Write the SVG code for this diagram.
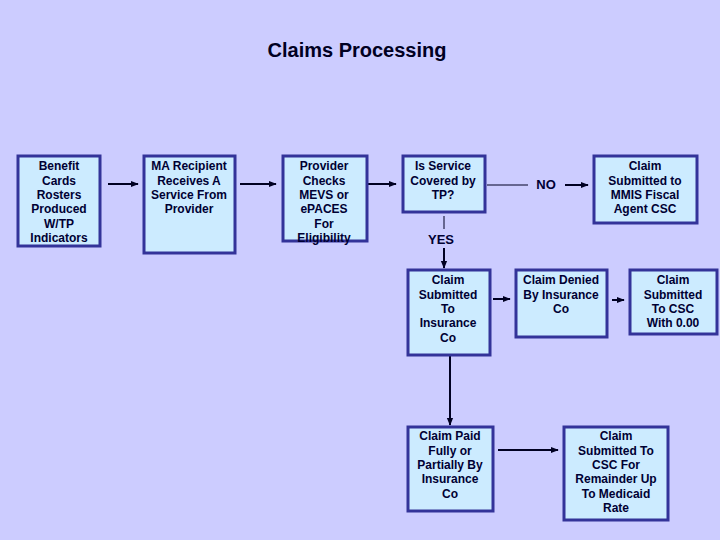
<svg xmlns="http://www.w3.org/2000/svg" width="720" height="540" viewBox="0 0 720 540">
<style>
.box{fill:#CCEBFF;stroke:#333399;stroke-width:3}
.t{font-family:"Liberation Sans",Arial,sans-serif;font-weight:bold;font-size:12px;fill:#000033;text-anchor:middle}
.c{stroke:#000022;stroke-width:2;fill:none}
.title{font-family:"Liberation Sans",Arial,sans-serif;font-weight:bold;font-size:20px;fill:#000022;text-anchor:middle}
</style>
<defs>
<marker id="ah" viewBox="0 0 10 10" refX="9" refY="5" markerWidth="4" markerHeight="4" orient="auto" markerUnits="strokeWidth">
<path d="M0,1 L10,5 L0,9 z" fill="#000022"/>
</marker>
</defs>
<rect width="720" height="540" fill="#CCCCFF"/>
<text class="title" x="357" y="57">Claims Processing</text>
<g id="connectors">
<line class="c" x1="108" y1="184" x2="138" y2="184" marker-end="url(#ah)"/>
<line class="c" x1="240" y1="184" x2="276" y2="184" marker-end="url(#ah)"/>
<line class="c" x1="368" y1="184" x2="396" y2="184" marker-end="url(#ah)"/>
<line x1="487" y1="185" x2="528" y2="185" stroke="#000022" stroke-width="1"/>
<text class="t" x="546" y="189" style="font-size:13px">NO</text>
<line class="c" x1="565" y1="185" x2="588" y2="185" marker-end="url(#ah)"/>
<line x1="444" y1="216" x2="444" y2="229" stroke="#000022" stroke-width="1"/>
<text class="t" x="441" y="244" style="font-size:13px">YES</text>
<line class="c" x1="444" y1="248" x2="444" y2="268" marker-end="url(#ah)"/>
<line class="c" x1="493" y1="299" x2="510" y2="299" marker-end="url(#ah)"/>
<line class="c" x1="612" y1="300" x2="624" y2="300" marker-end="url(#ah)"/>
<line class="c" x1="450" y1="356" x2="450" y2="425" marker-end="url(#ah)"/>
<line class="c" x1="498" y1="450" x2="558" y2="450" marker-end="url(#ah)"/>
</g>
<g id="n1">
<rect class="box" x="18" y="156" width="82" height="90"/>
<text class="t"><tspan x="59" y="170">Benefit</tspan><tspan x="59" y="185">Cards</tspan><tspan x="59" y="199">Rosters</tspan><tspan x="59" y="213">Produced</tspan><tspan x="59" y="228">W/TP</tspan><tspan x="59" y="242">Indicators</tspan></text>
</g>
<g id="n2">
<rect class="box" x="144" y="156" width="91" height="97"/>
<text class="t"><tspan x="189" y="170">MA Recipient</tspan><tspan x="189" y="185">Receives A</tspan><tspan x="189" y="199">Service From</tspan><tspan x="189" y="213">Provider</tspan></text>
</g>
<g id="n3">
<rect class="box" x="283" y="156" width="84" height="85"/>
<text class="t"><tspan x="324" y="170">Provider</tspan><tspan x="324" y="185">Checks</tspan><tspan x="324" y="199">MEVS or</tspan><tspan x="324" y="213">ePACES</tspan><tspan x="324" y="228">For</tspan><tspan x="324" y="242">Eligibility</tspan></text>
</g>
<g id="n4">
<rect class="box" x="403" y="156" width="82" height="56"/>
<text class="t"><tspan x="443" y="170">Is Service</tspan><tspan x="443" y="185">Covered by</tspan><tspan x="443" y="199">TP?</tspan></text>
</g>
<g id="n5">
<rect class="box" x="594" y="156" width="103" height="67"/>
<text class="t"><tspan x="645" y="170">Claim</tspan><tspan x="645" y="185">Submitted to</tspan><tspan x="645" y="199">MMIS Fiscal</tspan><tspan x="645" y="213">Agent CSC</tspan></text>
</g>
<g id="n6">
<rect class="box" x="408" y="270" width="82" height="85"/>
<text class="t"><tspan x="448" y="284">Claim</tspan><tspan x="448" y="299">Submitted</tspan><tspan x="448" y="313">To</tspan><tspan x="448" y="327">Insurance</tspan><tspan x="448" y="342">Co</tspan></text>
</g>
<g id="n7">
<rect class="box" x="516" y="270" width="91" height="67"/>
<text class="t"><tspan x="561" y="284">Claim Denied</tspan><tspan x="561" y="299">By Insurance</tspan><tspan x="561" y="313">Co</tspan></text>
</g>
<g id="n8">
<rect class="box" x="630" y="270" width="87" height="64"/>
<text class="t"><tspan x="673" y="284">Claim</tspan><tspan x="673" y="299">Submitted</tspan><tspan x="673" y="313">To CSC</tspan><tspan x="673" y="327">With 0.00</tspan></text>
</g>
<g id="n9">
<rect class="box" x="408" y="427" width="85" height="84"/>
<text class="t"><tspan x="450" y="440">Claim Paid</tspan><tspan x="450" y="455">Fully or</tspan><tspan x="450" y="469">Partially By</tspan><tspan x="450" y="483">Insurance</tspan><tspan x="450" y="498">Co</tspan></text>
</g>
<g id="n10">
<rect class="box" x="564" y="427" width="104" height="93"/>
<text class="t"><tspan x="616" y="440">Claim</tspan><tspan x="616" y="455">Submitted To</tspan><tspan x="616" y="469">CSC For</tspan><tspan x="616" y="483">Remainder Up</tspan><tspan x="616" y="498">To Medicaid</tspan><tspan x="616" y="512">Rate</tspan></text>
</g>
</svg>
